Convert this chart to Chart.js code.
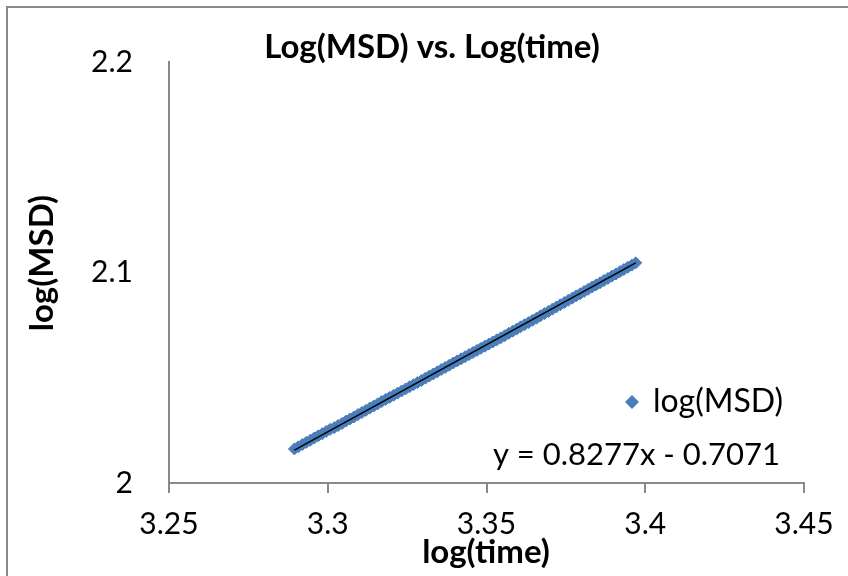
<!DOCTYPE html>
<html>
<head>
<meta charset="utf-8">
<script src="https://cdn.jsdelivr.net/npm/chart.js@4.4.0/dist/chart.umd.min.js"></script>
<style>
  html, body { margin: 0; padding: 0; background: #fff; }
  #wrap { width: 848px; height: 576px; position: relative; }
</style>
</head>
<body>
<div id="wrap"><canvas id="msdChart" width="848" height="576"></canvas></div>
<script>
// log(time) and log(MSD) samples
const logTime = [
  3.28950, 3.29075, 3.29200, 3.29325, 3.29450, 3.29575, 3.29700, 3.29825, 3.29950, 3.30075,
  3.30200, 3.30325, 3.30450, 3.30575, 3.30700, 3.30825, 3.30950, 3.31075, 3.31200, 3.31325,
  3.31450, 3.31575, 3.31700, 3.31825, 3.31950, 3.32075, 3.32200, 3.32325, 3.32450, 3.32575,
  3.32700, 3.32825, 3.32950, 3.33075, 3.33200, 3.33325, 3.33450, 3.33575, 3.33700, 3.33825,
  3.33950, 3.34075, 3.34200, 3.34325, 3.34450, 3.34575, 3.34700, 3.34825, 3.34950, 3.35075,
  3.35200, 3.35325, 3.35450, 3.35575, 3.35700, 3.35825, 3.35950, 3.36075, 3.36200, 3.36325,
  3.36450, 3.36575, 3.36700, 3.36825, 3.36950, 3.37075, 3.37200, 3.37325, 3.37450, 3.37575,
  3.37700, 3.37825, 3.37950, 3.38075, 3.38200, 3.38325, 3.38450, 3.38575, 3.38700, 3.38825,
  3.38950, 3.39075, 3.39200, 3.39325, 3.39450, 3.39575, 3.39700
];
const logMSD = [
  2.0162, 2.0172, 2.0183, 2.0193, 2.0203, 2.0214, 2.0224, 2.0234, 2.0245, 2.0255,
  2.0263, 2.0273, 2.0283, 2.0294, 2.0304, 2.0314, 2.0325, 2.0335, 2.0345, 2.0356,
  2.0366, 2.0376, 2.0387, 2.0397, 2.0407, 2.0417, 2.0427, 2.0437, 2.0447, 2.0457,
  2.0467, 2.0477, 2.0487, 2.0498, 2.0508, 2.0518, 2.0528, 2.0539, 2.0549, 2.0559,
  2.0570, 2.0580, 2.0590, 2.0600, 2.0610, 2.0620, 2.0630, 2.0640, 2.0650, 2.0660,
  2.0670, 2.0680, 2.0690, 2.0700, 2.0711, 2.0721, 2.0731, 2.0742, 2.0752, 2.0762,
  2.0773, 2.0783, 2.0794, 2.0805, 2.0815, 2.0826, 2.0836, 2.0847, 2.0857, 2.0868,
  2.0878, 2.0889, 2.0899, 2.0910, 2.0920, 2.0931, 2.0941, 2.0951, 2.0962, 2.0972,
  2.0983, 2.0993, 2.1004, 2.1014, 2.1025, 2.1035, 2.1046
];

// linear fit shown on the chart
const slope = 0.8277;
const intercept = -0.7071;

const xTicks = [3.25, 3.3, 3.35, 3.4, 3.45];
const yTicks = [2, 2.1, 2.2];

const FONT = 'Lato, Calibri, "Open Sans", sans-serif';
const AXIS_GRAY = '#898989';
const SERIES_BLUE = '#4a7ebb';

const points = logTime.map((x, i) => ({ x: x, y: logMSD[i] }));
const xFirst = logTime[0];
const xLast = logTime[logTime.length - 1];
const fitLine = [
  { x: xFirst, y: slope * xFirst + intercept },
  { x: xLast, y: slope * xLast + intercept }
];

// Frame, title, axis titles, legend and fit equation
const decorations = {
  id: 'decorations',
  afterDraw(chart) {
    const ctx = chart.ctx;
    ctx.save();
    ctx.strokeStyle = AXIS_GRAY;
    ctx.lineWidth = 2;
    ctx.strokeRect(7, 7, 900, 700);

    ctx.fillStyle = '#000';
    ctx.textBaseline = 'middle';
    ctx.textAlign = 'center';
    ctx.font = 'bold 33px ' + FONT;
    ctx.fillText('Log(MSD) vs. Log(time)', 432, 47);
    ctx.fillText('log(time)', 486, 552);

    ctx.save();
    ctx.translate(42, 263);
    ctx.rotate(-Math.PI / 2);
    ctx.fillText('log(MSD)', 0, 0);
    ctx.restore();

    // legend entry
    ctx.fillStyle = SERIES_BLUE;
    ctx.beginPath();
    ctx.moveTo(632, 395);
    ctx.lineTo(639, 402);
    ctx.lineTo(632, 409);
    ctx.lineTo(625, 402);
    ctx.closePath();
    ctx.fill();
    ctx.fillStyle = '#000';
    ctx.textAlign = 'left';
    ctx.font = '32px ' + FONT;
    ctx.fillText('log(MSD)', 653, 402);

    ctx.textAlign = 'right';
    ctx.font = '31px ' + FONT;
    const sign = intercept < 0 ? '-' : '+';
    ctx.fillText('y = ' + slope.toFixed(4) + 'x ' + sign + ' ' + Math.abs(intercept).toFixed(4), 780, 455);
    ctx.restore();
  }
};

new Chart(document.getElementById('msdChart'), {
  type: 'scatter',
  data: {
    datasets: [
      {
        label: 'Linear (log(MSD))',
        type: 'line',
        data: fitLine,
        borderColor: '#000',
        borderWidth: 1.5,
        pointRadius: 0,
        fill: false,
        order: 0
      },
      {
        label: 'log(MSD)',
        data: points,
        pointStyle: 'rectRot',
        pointRadius: 6,
        backgroundColor: SERIES_BLUE,
        borderColor: SERIES_BLUE,
        borderWidth: 1,
        order: 1
      }
    ]
  },
  options: {
    responsive: false,
    animation: false,
    layout: { padding: { left: 0, top: 62, right: 44, bottom: 0 } },
    plugins: {
      legend: { display: false },
      title: { display: false },
      tooltip: { enabled: false }
    },
    scales: {
      x: {
        type: 'linear',
        min: xTicks[0],
        max: xTicks[xTicks.length - 1],
        afterBuildTicks: (axis) => { axis.ticks = xTicks.map(v => ({ value: v })); },
        afterFit: (axis) => { axis.height = 93; },
        grid: {
          drawOnChartArea: false,
          drawTicks: true,
          tickLength: 10,
          color: AXIS_GRAY,
          lineWidth: 2
        },
        border: { color: AXIS_GRAY, width: 2 },
        ticks: {
          color: '#000',
          font: { family: FONT, size: 30 },
          padding: 13,
          maxRotation: 0,
          callback: (v) => String(v)
        }
      },
      y: {
        type: 'linear',
        min: yTicks[0],
        max: yTicks[yTicks.length - 1],
        afterBuildTicks: (axis) => { axis.ticks = yTicks.map(v => ({ value: v })); },
        afterFit: (axis) => { axis.width = 169; },
        grid: { drawOnChartArea: false, drawTicks: false },
        border: { color: AXIS_GRAY, width: 2 },
        ticks: {
          color: '#000',
          font: { family: FONT, size: 30 },
          padding: 36,
          callback: (v) => String(v)
        }
      }
    }
  },
  plugins: [decorations]
});
</script>
</body>
</html>
